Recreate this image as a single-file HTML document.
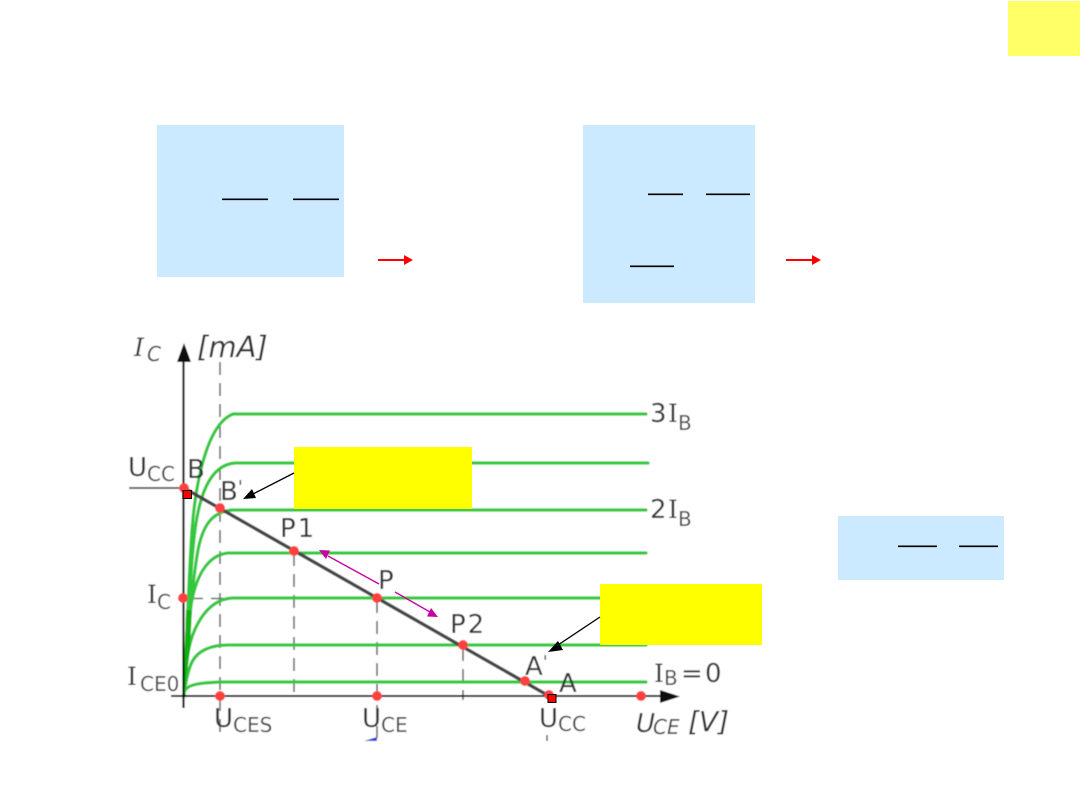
<!DOCTYPE html>
<html>
<head>
<meta charset="utf-8">
<style>
html,body{margin:0;padding:0;background:#fff;width:1080px;height:810px;overflow:hidden}
svg{display:block}
text{font-family:"DejaVu Sans","Liberation Sans",sans-serif;fill:#333}
.i{font-style:italic}
.s{font-size:20px;fill:#444}
.m{font-size:26px}
.r{font-family:"DejaVu Serif","Liberation Serif",serif;font-size:25px}
.w{font-size:28px}
</style>
</head>
<body>
<svg width="1080" height="810" viewBox="0 0 1080 810" xmlns="http://www.w3.org/2000/svg">
<defs>
<filter id="b" x="0" y="0" width="1" height="1" filterUnits="objectBoundingBox"><feGaussianBlur stdDeviation="0.6"/></filter>
</defs>
<rect width="1080" height="810" fill="#fff"/>
<rect x="1008" y="1" width="72" height="55" fill="#ffff66"/>
<rect x="157" y="125" width="187" height="152" fill="#cceaff"/>
<rect x="583" y="125" width="172" height="178" fill="#cceaff"/>
<rect x="838" y="516" width="166" height="64" fill="#cceaff"/>
<g stroke="#000" stroke-width="1.600">
<path d="M222 199.300H268M293 199.300H339M648 194.300H683M706 194.300H750M630 266.300H674M898 546.300H937M959 546.300H998"/>
</g>
<g fill="#f00" stroke="none">
<path d="M378 259H405V261H378Z M404 255L413 260L404 265Z"/>
<path d="M786 259H813V261H786Z M812 255L821 260L812 265Z"/>
</g>

<g filter="url(#b)">
<rect x="100" y="320" width="680" height="425" fill="#fff"/>
<!-- dashed guides -->
<g stroke="#666" stroke-width="1.600" stroke-dasharray="13 8" fill="none">
<path d="M220 362V740"/>
<path d="M294 553V700"/>
<path d="M377 600V738"/>
<path d="M463 648V700"/>
<path d="M547 735V741"/>
<path d="M190 598.500H228"/>
</g>

<!-- green curves -->
<g stroke="#30c83c" stroke-width="3.200" fill="none" stroke-linecap="round">
<path d="M184 696C187 640 189 570 192 530C195 490 205 425 233 414H646"/>
<path d="M184 696C187 640 190 570 195 530C199 500 208 465 235 463H648"/>
<path d="M184 696C187 650 191 590 198 550C203 525 212 512 232 510H646"/>
<path d="M184 696C186 660 188 620 192 600C197 575 208 555 228 553H646"/>
<path d="M184 696C185 680 186 665 188 653C192 630 205 600 232 598H646"/>
<path d="M184 696C185 685 188 670 192 662C198 650 212 645 228 645H646"/>
<path d="M184 692C187 685 196 683 220 682H646"/>
</g>
<path d="M184 696L186 610L192 610L190 650Z" fill="#0cb30c"/>

<!-- axes -->
<g stroke="#000" fill="none">
<path d="M183.500 356V708" stroke-width="2.200"/>
<path d="M171 696H664" stroke-width="2"/>
</g>
<path d="M184 343L177 362H191Z" fill="#111"/>
<path d="M660 690L680 696.500L660 703Z" fill="#111"/>
<path d="M129 488H180" stroke="#444" stroke-width="1.800"/>

<!-- load line -->
<path d="M184 488L549 696" stroke="#444" stroke-width="3.400"/>

<!-- dots -->
<g fill="#ff4040">
<circle cx="184" cy="488" r="5"/>
<circle cx="220" cy="508" r="5"/>
<circle cx="294" cy="551" r="5"/>
<circle cx="377" cy="598" r="5"/>
<circle cx="463" cy="645" r="5"/>
<circle cx="525" cy="681" r="5"/>
<circle cx="549" cy="695" r="5"/>
<circle cx="641" cy="696" r="5"/>
<circle cx="220" cy="696" r="5"/>
<circle cx="377" cy="696" r="5"/>
<circle cx="183" cy="598" r="5"/>
</g>

<!-- labels -->
<text x="134" y="356" class="r i">I</text>
<text x="147" y="361" class="s i">C</text>
<text x="197" y="357" class="i" font-size="29">[mA]</text>
<text x="128" y="476" class="m">U</text>
<text x="147" y="481" class="s">CC</text>
<text x="187" y="478" class="m">B</text>
<text x="220" y="500" class="m">B<tspan font-size="18" dy="-7">'</tspan></text>
<text x="280" y="537" class="m" letter-spacing="2">P1</text>
<text x="378" y="589" class="m">P</text>
<text x="450" y="633" class="m" letter-spacing="2">P2</text>
<text x="525" y="675" class="m">A<tspan font-size="18" dy="-7">'</tspan></text>
<text x="559" y="692" class="m">A</text>
<text x="147" y="603" class="r">I</text>
<text x="157" y="609" class="s">C</text>
<text x="127" y="685" class="r">I</text>
<text x="140" y="691" class="s">CE0</text>
<text x="214" y="727" class="m">U</text>
<text x="233" y="732" class="s">CES</text>
<text x="362" y="727" class="m">U</text>
<text x="381" y="732" class="s">CE</text>
<text x="539" y="727" class="m">U</text>
<text x="558" y="731" class="s">CC</text>
<text x="650" y="422" class="m">3</text>
<text x="668" y="422" class="r">I</text>
<text x="678" y="430" class="s">B</text>
<text x="650" y="518" class="m">2</text>
<text x="668" y="518" class="r">I</text>
<text x="678" y="526" class="s">B</text>
<text x="654" y="682" class="r">I</text>
<text x="664" y="685" class="s">B</text>
<text x="681" y="682" class="m">=</text>
<text x="705" y="682" class="m">0</text>
<text x="636" y="732" class="m i">U</text>
<text x="653" y="734" class="s i">CE</text>
<text x="688" y="731" class="w i">[V]</text>
<path d="M364 741L377 737V741Z" fill="#3344cc"/>
</g>

<!-- red handles -->
<rect x="183" y="490.500" width="8.500" height="8" fill="#f00" stroke="#000" stroke-width="1"/>
<rect x="548" y="694.500" width="8" height="8" fill="#f00" stroke="#000" stroke-width="1"/>

<!-- yellow callouts -->
<rect x="294" y="447" width="178" height="62" fill="#ffff00"/>
<rect x="600" y="584" width="162" height="61" fill="#ffff00"/>
<g stroke="#000" stroke-width="1.300">
<path d="M294 473L251 495"/>
<path d="M600 617L555 647"/>
</g>
<path d="M243 499L252 489L256 498Z" fill="#000"/>
<path d="M548 652L558 641L563 650Z" fill="#000"/>

<!-- magenta arrows -->
<g stroke="#c800a0" stroke-width="1.300">
<path d="M328 556L379 584"/>
<path d="M395 592L430 612"/>
</g>
<path d="M319 550L330 550.500L326 559Z" fill="#c800a0"/>
<path d="M438 617L427 616.500L431 608Z" fill="#c800a0"/>
</svg>
</body>
</html>
